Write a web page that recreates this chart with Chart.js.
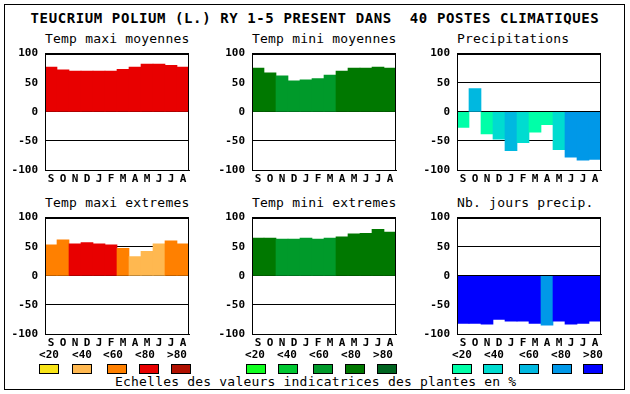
<!DOCTYPE html>
<html>
<head>
<meta charset="utf-8">
<script src="https://cdn.jsdelivr.net/npm/chart.js@4.4.0/dist/chart.umd.min.js"></script>
<style>
body { margin: 0; background: #fff; }
#page { position: relative; width: 630px; height: 394px; overflow: hidden; font-family: "DejaVu Sans Mono", monospace; color: #000; }
.frame { position: absolute; left: 4px; top: 4px; width: 619px; height: 384px; border: 1px solid #000; }
.txt { position: absolute; white-space: pre; }
.title { font-weight: bold; font-size: 14px; line-height: 14px; letter-spacing: 0.6px; left: 0; width: 630px; text-align: center; top: 11px; }
.sub { font-size: 13px; line-height: 13px; letter-spacing: 0.2px; }
.leg { font-weight: bold; font-size: 11px; line-height: 11px; width: 30px; text-align: center; top: 349px; }
.box { position: absolute; top: 364px; width: 18px; height: 8px; border: 1px solid #000; }
canvas { position: absolute; }
</style>
</head>
<body>
<div id="page">
  <div class="frame"></div>
  <div class="txt title">TEUCRIUM POLIUM (L.) RY 1-5 PRESENT DANS  40 POSTES CLIMATIQUES</div>
  <div class="txt sub" style="left:115px; top:375px;">Echelles des valeurs indicatrices des plantes en %</div>
</div>
<script>
const months = ['S', 'O', 'N', 'D', 'J', 'F', 'M', 'A', 'M', 'J', 'J', 'A'];
const yTicks = [100, 50, 0, -50, -100];
const legendLabels = ['<20', '<40', '<60', '<80', '>80'];

const tempMaxiMoy = [77, 72, 70, 70, 70, 70, 73, 77, 82, 82, 80, 77];
const tempMiniMoy = [75, 67, 62, 53, 55, 57, 63, 70, 75, 75, 77, 75];
const precip      = [-27, 40, -38, -47, -67, -53, -35, -22, -65, -78, -83, -82];
const tempMaxiExt = [53, 62, 55, 57, 55, 53, 47, 33, 42, 55, 60, 55];
const tempMiniExt = [65, 65, 63, 63, 65, 63, 65, 67, 72, 73, 80, 75];
const nbJours     = [-82, -82, -83, -75, -78, -78, -82, -85, -78, -83, -82, -78];

// class of each bar in the legend scale (0 = <20 ... 4 = >80)
const tempMaxiMoyCls = [3, 3, 3, 3, 3, 3, 3, 3, 3, 3, 3, 3];
const tempMiniMoyCls = [3, 3, 2, 2, 2, 2, 2, 3, 3, 3, 3, 3];
const precipCls      = [0, 2, 0, 1, 2, 1, 0, 0, 1, 3, 3, 3];
const tempMaxiExtCls = [2, 2, 3, 3, 3, 3, 2, 1, 1, 1, 2, 2];
const tempMiniExtCls = [3, 3, 2, 2, 2, 2, 2, 3, 3, 3, 3, 3];
const nbJoursCls     = [4, 4, 4, 4, 4, 4, 4, 3, 4, 4, 4, 4];

const warmColors  = ['#f8e418', '#ffb850', '#ff8000', '#e80000', '#b01000'];
const greenColors = ['#10ff20', '#00c832', '#009a2a', '#007800', '#006420'];
const blueColors  = ['#00ffa8', '#00dcd0', '#00b8e0', '#0098e8', '#0000ff'];

const panels = [
    { title: 'Temp maxi moyennes', data: tempMaxiMoy, cls: tempMaxiMoyCls, colors: warmColors,  x: 45,  y: 50 },
    { title: 'Temp mini moyennes', data: tempMiniMoy, cls: tempMiniMoyCls, colors: greenColors, x: 252, y: 50 },
    { title: 'Precipitations',     data: precip,      cls: precipCls,      colors: blueColors,  x: 457, y: 50 },
    { title: 'Temp maxi extremes', data: tempMaxiExt, cls: tempMaxiExtCls, colors: warmColors,  x: 45,  y: 214 },
    { title: 'Temp mini extremes', data: tempMiniExt, cls: tempMiniExtCls, colors: greenColors, x: 252, y: 214 },
    { title: 'Nb. jours precip.',  data: nbJours,     cls: nbJoursCls,     colors: blueColors,  x: 457, y: 214 }
];

const legends = [
    { colors: warmColors,  labelX: [49, 82, 113, 145, 177], boxX: [39, 72, 107, 139, 171] },
    { colors: greenColors, labelX: [255, 287, 319, 351, 383], boxX: [246, 278, 313, 345, 377] },
    { colors: blueColors,  labelX: [462, 494, 529, 561, 593], boxX: [452, 483, 519, 552, 583] }
];

const framePlugin = {
    id: 'frame',
    afterDraw(chart) {
        const a = chart.chartArea;
        const ctx = chart.ctx;
        ctx.save();
        ctx.strokeStyle = '#000';
        ctx.lineWidth = 1;
        ctx.strokeRect(Math.round(a.left) + 0.5, Math.round(a.top) + 0.5,
            Math.round(a.right - a.left) - 1, Math.round(a.bottom - a.top));
        ctx.restore();
    }
};

const page = document.getElementById('page');
const tickFont = { family: 'DejaVu Sans Mono', weight: 'bold', size: 11 };

function addText(cls, text, left, top) {
    const d = document.createElement('div');
    d.className = 'txt ' + cls;
    d.textContent = text;
    d.style.left = left + 'px';
    if (top !== null) d.style.top = top + 'px';
    page.appendChild(d);
}

panels.forEach(p => {
    addText('sub', p.title, p.x, p.y - 18);

    const canvas = document.createElement('canvas');
    canvas.width = 191;
    canvas.height = 146;
    canvas.style.left = (p.x - 45) + 'px';
    canvas.style.top = (p.y - 10) + 'px';
    page.appendChild(canvas);

    new Chart(canvas.getContext('2d'), {
        type: 'bar',
        data: {
            labels: months,
            datasets: [{
                data: p.data,
                backgroundColor: p.cls.map(c => p.colors[c]),
                borderWidth: 0,
                barPercentage: 1,
                categoryPercentage: 1
            }]
        },
        options: {
            responsive: false,
            animation: false,
            events: [],
            layout: { padding: { top: 10, right: 2, left: 0, bottom: 0 } },
            plugins: { legend: { display: false }, tooltip: { enabled: false } },
            scales: {
                x: {
                    grid: { display: false, drawTicks: false },
                    border: { display: true, color: '#000' },
                    ticks: { color: '#000', font: tickFont, padding: 3, maxRotation: 0, autoSkip: false },
                    afterFit: s => { s.height = 16; }
                },
                y: {
                    min: -100,
                    max: 100,
                    z: 1,
                    afterBuildTicks: s => { s.ticks = yTicks.map(v => ({ value: v })); },
                    grid: { color: '#000', lineWidth: 1, drawTicks: false },
                    border: { display: true, color: '#000' },
                    ticks: { color: '#000', font: tickFont, padding: 7 },
                    afterFit: s => { s.width = 45; }
                }
            }
        },
        plugins: [framePlugin]
    });
});

legends.forEach(l => {
    legendLabels.forEach((t, i) => {
        addText('leg', t, l.labelX[i] - 15, null);
        const b = document.createElement('div');
        b.className = 'box';
        b.style.left = l.boxX[i] + 'px';
        b.style.background = l.colors[i];
        page.appendChild(b);
    });
});
</script>
</body>
</html>
